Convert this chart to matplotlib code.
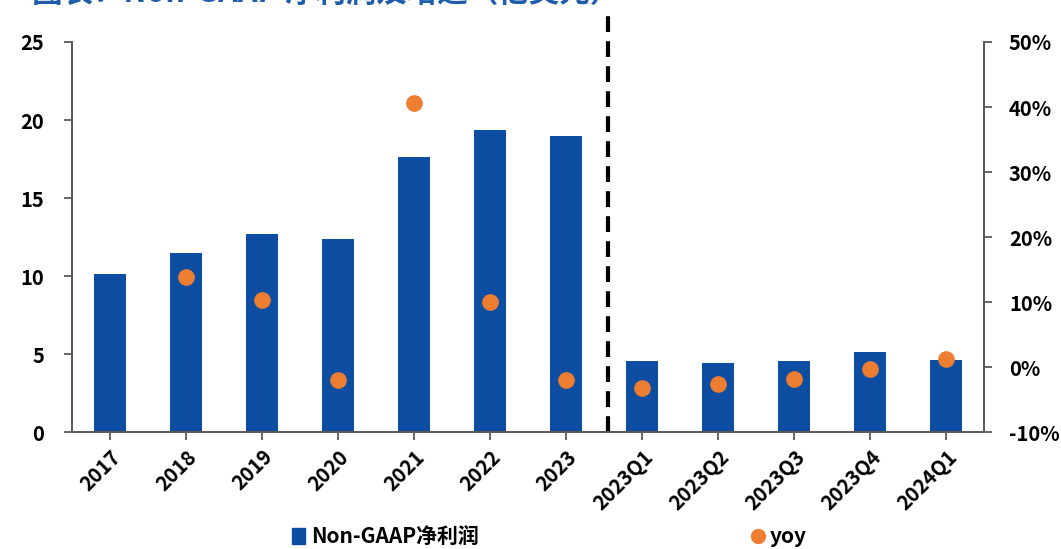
import matplotlib
matplotlib.use("AGG")
import matplotlib.pyplot as plt
from matplotlib.lines import Line2D
from matplotlib.patches import Patch

plt.rcParams['font.family'] = ['Noto Sans CJK SC', 'DejaVu Sans']
plt.rcParams['font.weight'] = 'bold'

labels = ['2017', '2018', '2019', '2020', '2021', '2022', '2023',
          '2023Q1', '2023Q2', '2023Q3', '2023Q4', '2024Q1']
profit = [10.1, 11.5, 12.7, 12.4, 17.6, 19.35, 18.95, 4.55, 4.45, 4.55, 5.15, 4.6]
yoy_x = [1, 2, 3, 4, 5, 6, 7, 8, 9, 10, 11]
yoy = [13.9, 10.3, -2.0, 40.6, 10.0, -2.0, -3.3, -2.6, -1.8, -0.3, 1.2]

bar_color = '#0D4EA2'
dot_color = '#ED7D31'
axis_color = '#595959'

fig = plt.figure(figsize=(10.61, 5.49), dpi=100)
ax = fig.add_axes([0.0679, 0.2131, 0.8595, 0.7104])
ax2 = ax.twinx()

x = list(range(len(labels)))
ax.bar(x, profit, width=0.42, color=bar_color, zorder=2)
ax2.plot(yoy_x, yoy, 'o', color=dot_color, markersize=11, zorder=3)

ax.set_xlim(-0.5, 11.5)
ax.set_ylim(0, 25)
ax.set_yticks([0, 5, 10, 15, 20, 25])
ax2.set_ylim(-10, 50)
ax2.set_yticks([-10, 0, 10, 20, 30, 40, 50])
ax2.set_yticklabels([f'{v}%' for v in range(-10, 51, 10)])

ax.set_xticks(x)
ax.set_xticklabels(labels, rotation=45, ha='right', rotation_mode='anchor')

for a in (ax, ax2):
    a.spines['top'].set_visible(False)
    for s in ('left', 'right', 'bottom'):
        a.spines[s].set_color(axis_color)
        a.spines[s].set_linewidth(1.3)
    a.tick_params(colors=axis_color, labelcolor='black', labelsize=14.5,
                  length=6, width=1.3)
ax.tick_params(axis='y', pad=14)
ax.tick_params(axis='x', pad=4)
ax2.tick_params(axis='y', pad=12)

ax.axvline(6.55, ymin=0, ymax=1.077, color='black', linestyle=(0, (3.8, 2.2)),
           linewidth=3, clip_on=False, zorder=4)

fig.text(0.03, 1.012, '图表：Non-GAAP 净利润及增速（亿美元）', color='#1F5DAA',
         fontsize=22, fontweight='bold', va='center', ha='left')

fig.legend(handles=[Patch(color=bar_color)], labels=['Non-GAAP净利润'],
           loc='center left', bbox_to_anchor=(0.258, 0.022), frameon=False,
           fontsize=15, handlelength=0.6, handleheight=0.8, handletextpad=0.3)
fig.legend(handles=[Line2D([], [], marker='o', color=dot_color, linestyle='none',
                           markersize=10)],
           labels=['yoy'], loc='center left', bbox_to_anchor=(0.69, 0.022),
           frameon=False, fontsize=15, handlelength=0.7, handletextpad=0.2)

plt.savefig('out.png', dpi=100)
